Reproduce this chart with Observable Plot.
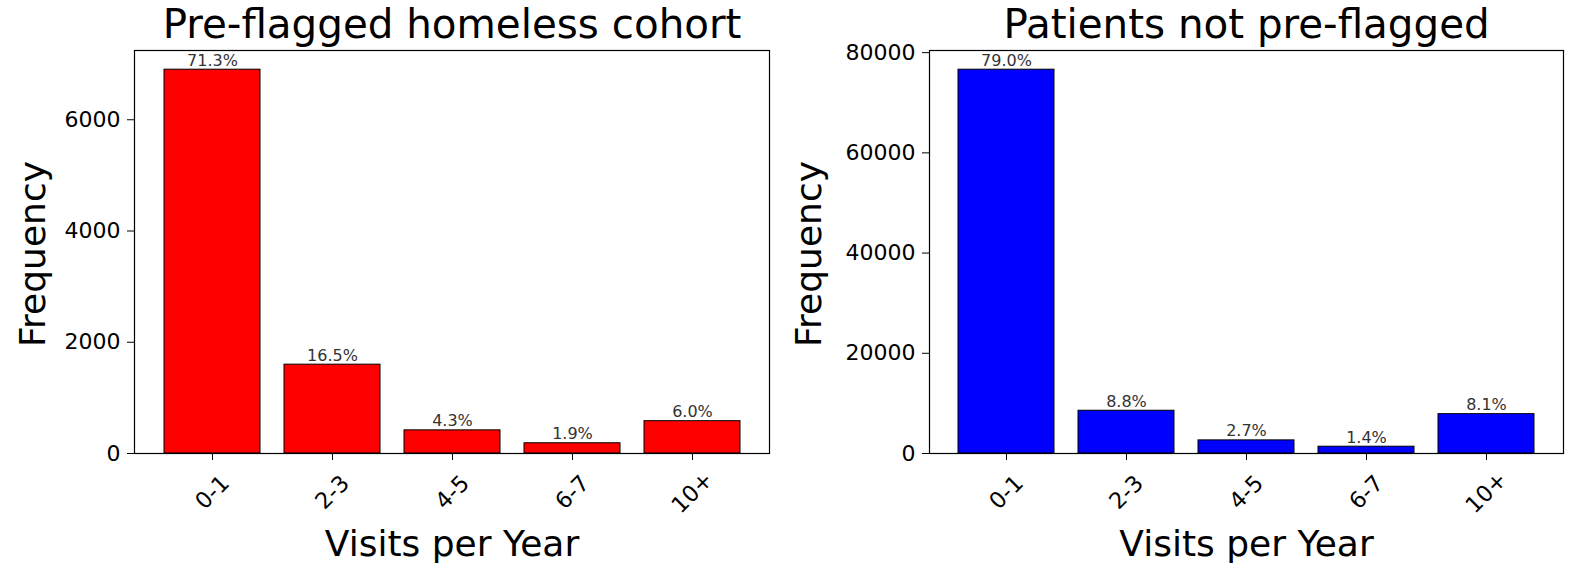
<!DOCTYPE html>
<html><head><meta charset="utf-8">
<script src="https://cdn.jsdelivr.net/npm/d3@7"></script>
<script src="https://cdn.jsdelivr.net/npm/@observablehq/plot@0.6"></script>
<style>
body{margin:0;background:#fff;}
#wrap{display:flex;width:1575px;height:569px;}
#wrap svg{display:block}
</style></head><body><div id="wrap"></div>
<script>
const categories = ["0-1","2-3","4-5","6-7","10+"];
const homelessCounts = [6900,1597,416,184,581];
const homelessPercents = ["71.3%","16.5%","4.3%","1.9%","6.0%"];
const otherCounts = [76600,8533,2618,1357,7854];
const otherPercents = ["79.0%","8.8%","2.7%","1.4%","8.1%"];
const homelessTicks = [0,2000,4000,6000];
const otherTicks = [0,20000,40000,60000,80000];
const titles = ["Pre-flagged homeless cohort","Patients not pre-flagged"];
const xLabel = "Visits per Year";
const yLabel = "Frequency";
const colors = ["#ff0000","#0000ff"];

function panel({counts, percents, ticks, title, color, width, marginLeft, marginRight, yLabelDx}) {
  const data = categories.map((c,i)=>({cat:c, count:counts[i], pct:percents[i]}));
  const ymax = d3.max(counts)*1.05;
  return Plot.plot({
    width, height:569, marginTop:50, marginBottom:116, marginLeft, marginRight,
    style:{fontFamily:"DejaVu Sans", background:"#fff", color:"#000"},
    x:{domain:categories, paddingInner:0.2, paddingOuter:0.24, label:null},
    y:{domain:[0,ymax], label:null},
    marks:[
      Plot.barY(data,{x:"cat", y:"count", fill:color, stroke:"#000", strokeWidth:1}),
      Plot.text(data,{x:"cat", y:"count", text:"pct", lineAnchor:"bottom", dy:-4, fontSize:16, fill:"#333"}),
      Plot.frame({stroke:"#000", strokeWidth:1.2}),
      Plot.axisY({ticks, tickSize:7, tickPadding:7, tickFormat:d3.format("d"), fontSize:22, label:null}),
      Plot.axisX({tickSize:7, tickRotate:-45, textAnchor:"middle", lineAnchor:"middle", tickPadding:32, fontSize:22.5, label:null}),
      Plot.text([title],{text:d=>d, frameAnchor:"top", textAnchor:"middle", lineAnchor:"bottom", dy:-13, fontSize:40.4, fill:"#000"}),
      Plot.text([xLabel],{text:d=>d, frameAnchor:"bottom", textAnchor:"middle", lineAnchor:"bottom", dy:102, fontSize:36, fill:"#000"}),
      Plot.text([yLabel],{text:d=>d, frameAnchor:"left", textAnchor:"middle", lineAnchor:"bottom", rotate:-90, dx:yLabelDx, dy:2, fontSize:36, fill:"#000"})
    ]
  });
}
const wrap = document.getElementById("wrap");
wrap.append(panel({counts:homelessCounts, percents:homelessPercents, ticks:homelessTicks, title:titles[0], color:colors[0], width:787, marginLeft:134, marginRight:18, yLabelDx:-90}));
wrap.append(panel({counts:otherCounts, percents:otherPercents, ticks:otherTicks, title:titles[1], color:colors[1], width:788, marginLeft:142, marginRight:12, yLabelDx:-109}));
</script></body></html>
